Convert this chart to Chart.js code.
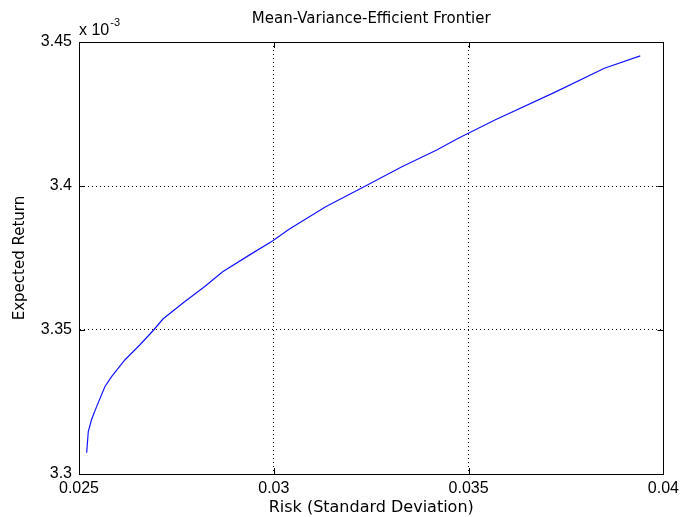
<!DOCTYPE html>
<html>
<head>
<meta charset="utf-8">
<script src="https://cdn.jsdelivr.net/npm/chart.js@4"></script>
<style>
  html, body { margin: 0; padding: 0; background: #fff; }
  #wrap { width: 684px; height: 517px; }
</style>
</head>
<body>
<div id="wrap"><canvas id="frontier" width="684" height="517"></canvas></div>
<script>
// risk (std dev) and expected return (x 10^-3)
const risk = [0.025197, 0.025238, 0.025325, 0.025452, 0.025664, 0.025836, 0.026176, 0.026559,
    0.026917, 0.027154, 0.027709, 0.028220, 0.028687, 0.029370, 0.029965, 0.030392,
    0.031330, 0.032352, 0.033287, 0.034182, 0.034736, 0.035674, 0.037207, 0.038485, 0.039405];
const expReturn = [3.3074, 3.3147, 3.3190, 3.3234, 3.3303, 3.3338, 3.3396, 3.3448,
    3.3500, 3.3538, 3.3598, 3.3650, 3.3702, 3.3760, 3.3809, 3.3850,
    3.3928, 3.4000, 3.4067, 3.4125, 3.4166, 3.4229, 3.4325, 3.4409, 3.4452];
const xTicks = [0.025, 0.03, 0.035, 0.04];
const yTicks = [3.3, 3.35, 3.4, 3.45];

const FONT = '"Liberation Sans", Arial, Helvetica, sans-serif';
const TEXT_FONT = '"DejaVu Sans", sans-serif';

const points = risk.map((r, i) => ({ x: r, y: expReturn[i] }));

// box, inward ticks, title and exponent label, drawn like the matlab figure
const matlabFrame = {
    id: 'matlabFrame',
    afterDraw(chart) {
        const ctx = chart.ctx;
        const a = chart.chartArea;
        const xs = chart.scales.x, ys = chart.scales.y;
        ctx.save();
        ctx.strokeStyle = '#000';
        ctx.lineWidth = 1;
        ctx.setLineDash([]);
        ctx.strokeRect(Math.round(a.left) + 0.5, Math.round(a.top) + 0.5,
            Math.round(a.right - a.left), Math.round(a.bottom - a.top));
        ctx.beginPath();
        xTicks.forEach(v => {
            const px = Math.round(xs.getPixelForValue(v)) + 0.5;
            ctx.moveTo(px, a.bottom); ctx.lineTo(px, a.bottom - 6);
            ctx.moveTo(px, a.top); ctx.lineTo(px, a.top + 6);
        });
        yTicks.forEach(v => {
            const py = Math.round(ys.getPixelForValue(v)) + 0.5;
            ctx.moveTo(a.left, py); ctx.lineTo(a.left + 6, py);
            ctx.moveTo(a.right, py); ctx.lineTo(a.right - 6, py);
        });
        ctx.stroke();

        ctx.fillStyle = '#000';
        ctx.font = '15px ' + TEXT_FONT;
        ctx.textAlign = 'center';
        ctx.textBaseline = 'alphabetic';
        ctx.fillText('Mean-Variance-Efficient Frontier', (a.left + a.right) / 2, 23);

        ctx.textAlign = 'left';
        ctx.font = '16px ' + FONT;
        ctx.fillText('x 10', a.left, 35);
        const w = ctx.measureText('x 10').width;
        ctx.font = '11px ' + FONT;
        ctx.fillText('-3', a.left + w + 1, 26);
        ctx.restore();
    }
};

const config = {
    type: 'scatter',
    data: {
        datasets: [{
            data: points,
            showLine: true,
            borderColor: 'rgb(20, 20, 255)',
            borderWidth: 1.2,
            pointRadius: 0,
            fill: false,
            tension: 0
        }]
    },
    options: {
        responsive: false,
        animation: false,
        layout: { padding: { left: 0, right: 18, top: 42, bottom: 0 } },
        plugins: {
            legend: { display: false },
            tooltip: { enabled: false }
        },
        scales: {
            x: {
                type: 'linear',
                min: 0.025,
                max: 0.04,
                afterBuildTicks: s => { s.ticks = xTicks.map(v => ({ value: v })); },
                afterFit: s => { s.height = 43; },
                ticks: {
                    color: '#000',
                    font: { family: FONT, size: 16 },
                    padding: 5,
                    maxRotation: 0,
                    callback: v => String(v)
                },
                grid: {
                    color: '#000',
                    lineWidth: 1,
                    drawTicks: false
                },
                border: { display: true, color: '#000', dash: [1, 3] },
                title: {
                    display: true,
                    text: 'Risk (Standard Deviation)',
                    color: '#000',
                    font: { family: TEXT_FONT, size: 16 },
                    padding: { top: 0, bottom: 0 }
                }
            },
            y: {
                type: 'linear',
                min: 3.3,
                max: 3.45,
                afterBuildTicks: s => { s.ticks = yTicks.map(v => ({ value: v })); },
                afterFit: s => { s.width = 79; },
                ticks: {
                    color: '#000',
                    font: { family: FONT, size: 16 },
                    padding: 7,
                    callback: v => String(v)
                },
                grid: {
                    color: '#000',
                    lineWidth: 1,
                    drawTicks: false
                },
                border: { display: true, color: '#000', dash: [1, 3] },
                title: {
                    display: true,
                    text: 'Expected Return',
                    color: '#000',
                    font: { family: TEXT_FONT, size: 15 },
                    padding: { top: 11, bottom: 0 }
                }
            }
        }
    },
    plugins: [matlabFrame]
};

const frontierChart = new Chart(document.getElementById('frontier'), config);
</script>
</body>
</html>
